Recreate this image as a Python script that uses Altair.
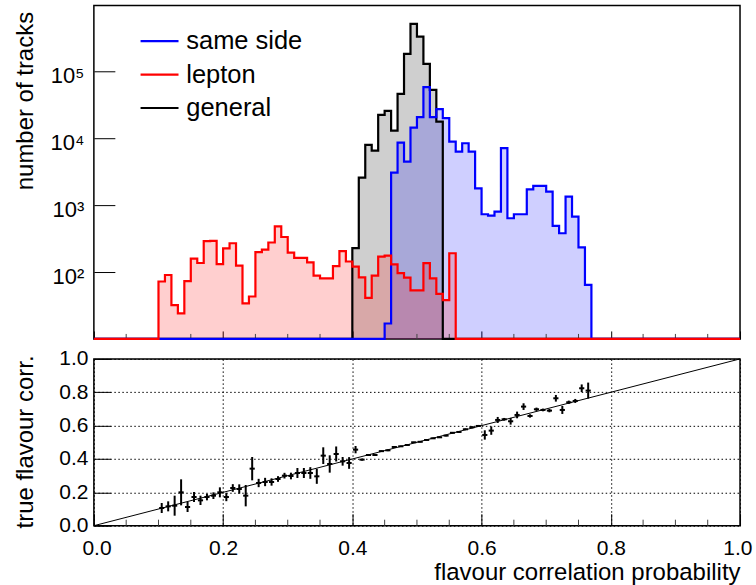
import altair as alt
import pandas as pd

# ---------------------------------------------------------------- data
BIN = 0.01          # histogram bin width
N_BINS = 100
YMIN, YMAX = 10, 9.5e5

# track counts per bin, listed from the first filled bin onwards
same_side_start = 0.45
same_side_counts = [17, 3030, 8510, 4430, 14250, 20400, 57100, 20400, 26800, 19700,
                    8810, 6250, 8320, 6250, 1770, 726, 693, 795, 7020, 632,
                    726, 726, 1710, 1920, 1920, 1580, 486, 378, 1330, 670,
                    233, 64]

lepton_start = 0.10
lepton_counts = [72, 90, 32, 24, 73, 158, 136, 288, 290, 131,
                 225, 268, 124, 34, 43, 197, 215, 275, 480, 332,
                 194, 162, 162, 139, 88, 80, 80, 122, 205, 143,
                 120, 83, 41, 88, 169, 175, 130, 96, 82, 53,
                 53, 135, 80, 47, 38, 190]

general_start = 0.40
general_counts = [226, 2550, 7870, 6460, 22000, 25300, 12850, 45400, 179000, 502000,
                  325000, 127000, 52000, 17500]

series_names = ["same side", "lepton", "general"]
series_colors = ["#0000ff", "#ff0000", "#000000"]

# profile: bin centre, mean true flavour correlation, its error
prof_x = [0.105, 0.115, 0.125, 0.135, 0.145, 0.155, 0.165, 0.175, 0.185, 0.195,
          0.205, 0.215, 0.225, 0.235, 0.245, 0.255, 0.265, 0.275, 0.285, 0.295,
          0.305, 0.315, 0.325, 0.335, 0.345, 0.355, 0.365, 0.375, 0.385, 0.395,
          0.405, 0.415, 0.425, 0.435, 0.445, 0.455, 0.465, 0.475, 0.485, 0.495,
          0.505, 0.515, 0.525, 0.535, 0.545, 0.555, 0.565, 0.575, 0.585, 0.595,
          0.605, 0.615, 0.625, 0.635, 0.645, 0.655, 0.665, 0.675, 0.685, 0.695,
          0.705, 0.715, 0.725, 0.735, 0.745, 0.755, 0.765]
prof_y = [0.106, 0.116, 0.120, 0.200, 0.112, 0.172, 0.152, 0.172, 0.180, 0.200,
          0.172, 0.226, 0.220, 0.180, 0.342, 0.256, 0.262, 0.262, 0.280, 0.300,
          0.298, 0.316, 0.316, 0.316, 0.296, 0.420, 0.370, 0.430, 0.386, 0.376,
          0.456, 0.396, 0.424, 0.424, 0.447, 0.452, 0.472, 0.476, 0.484, 0.500,
          0.503, 0.514, 0.524, 0.530, 0.540, 0.557, 0.562, 0.578, 0.590, 0.598,
          0.544, 0.570, 0.634, 0.638, 0.626, 0.664, 0.714, 0.658, 0.698, 0.694,
          0.690, 0.764, 0.694, 0.740, 0.748, 0.824, 0.810]
prof_err = [0.030, 0.030, 0.060, 0.078, 0.030, 0.030, 0.028, 0.020, 0.020, 0.030,
            0.025, 0.023, 0.028, 0.064, 0.070, 0.025, 0.025, 0.022, 0.017, 0.017,
            0.020, 0.030, 0.030, 0.035, 0.045, 0.050, 0.052, 0.045, 0.026, 0.035,
            0.022, 0.006, 0.005, 0.005, 0.005, 0.005, 0.004, 0.004, 0.004, 0.003,
            0.003, 0.003, 0.003, 0.004, 0.004, 0.004, 0.005, 0.005, 0.006, 0.006,
            0.028, 0.025, 0.018, 0.008, 0.020, 0.020, 0.020, 0.010, 0.010, 0.008,
            0.010, 0.020, 0.024, 0.010, 0.012, 0.023, 0.048]

# reference diagonal: perfect calibration
diag_x = [0.0, 1.0]
diag_y = [0.0, 1.0]

# ---------------------------------------------------------------- layout
W = 647
H_TOP = 334
H_BOT = 167
FONT = "Liberation Sans"


def hist_frame(name, start, counts):
    full = [0] * N_BINS
    i0 = int(round(start / BIN))
    for k, c in enumerate(counts):
        full[i0 + k] = c
    edges = [i * BIN for i in range(N_BINS)] + [1.0]
    vals = full + [full[-1]]
    return pd.DataFrame({
        "x": edges,
        "count": vals,
        "y": [max(v, YMIN) for v in vals],   # empty bins sit on the lower edge
        "base": YMIN,
        "series": name,
    })


hists = {
    "same side": hist_frame("same side", same_side_start, same_side_counts),
    "lepton": hist_frame("lepton", lepton_start, lepton_counts),
    "general": hist_frame("general", general_start, general_counts),
}
colour = dict(zip(series_names, series_colors))

x_scale = alt.Scale(domain=[0, 1], nice=False, zero=False)
y_log = alt.Scale(type="log", domain=[YMIN, YMAX], nice=False)
lin_scale = alt.Scale(domain=[0, 1], nice=False, zero=False)
stroke_scale = alt.Scale(domain=series_names, range=series_colors)

# tick positions (ticks point into the frame)
major_x = [0, 0.2, 0.4, 0.6, 0.8, 1.0]
minor_x = [round(i * 0.05, 2) for i in range(21) if i % 4 != 0]
major_log = [100, 1000, 10000, 100000]
minor_log = [m * 10 ** e for e in range(1, 6) for m in range(2, 10) if m * 10 ** e < YMAX]


def inward(px):
    # negative tick length: the tick is drawn inside the plotting frame
    return alt.ExprRef(expr=f"-{px}")


def log_up(px):
    # value on the log axis lying px pixels above its lower end
    return YMIN * (YMAX / YMIN) ** (px / H_TOP)


def ticks_along_x(values, xsc, xaxis, ysc, yaxis, y_from, y_to, color="#444444"):
    """Minor ticks standing on the bottom edge of a panel."""
    return (
        alt.Chart(pd.DataFrame({"v": values}))
        .transform_calculate(a=f"{y_from}", b=f"{y_to}")
        .mark_rule(color=color, strokeWidth=1)
        .encode(
            x=alt.X("v:Q", scale=xsc, axis=xaxis),
            y=alt.Y("a:Q", scale=ysc, axis=yaxis),
            y2="b:Q",
        )
    )


# ---------------------------------------------------------------- top panel
y_lab_log = alt.Axis(
    orient="left", values=major_log,
    labelExpr="'10' + ['⁰','¹','²','³','⁴','⁵','⁶'][round(log(datum.value)/LN10)]",
    ticks=True, tickSize=inward(21), tickColor="black", tickWidth=1,
    domain=False, grid=False,
    labelFontSize=22, labelPadding=31, labelOffset=5, labelColor="black",
    title="number of tracks", titleX=-61, titleY=6, titleAngle=270,
    titleAlign="right", titleBaseline="alphabetic", titleFontSize=24,
    titleFontWeight="normal", titleColor="black",
)
x_top = alt.Axis(
    orient="bottom", values=major_x, labels=False, domain=False, grid=False,
    ticks=True, tickSize=inward(8), tickColor="black", tickWidth=1, title="",
)

legend = alt.Legend(
    title=None, orient="none", legendX=43.5, legendY=23,
    symbolType="M-1,0H3", symbolSize=361, symbolStrokeWidth=2.2,
    labelFontSize=25.5, labelOffset=23.5, rowPadding=6.5, padding=0,
    labelColor="black",
)

areas, lines = [], []
for name in ["general", "same side", "lepton"]:
    base = alt.Chart(hists[name])
    areas.append(
        base.mark_area(interpolate="step-after", color=colour[name], fillOpacity=0.19)
        .encode(
            x=alt.X("x:Q", scale=x_scale, axis=x_top),
            y=alt.Y("y:Q", scale=y_log, axis=y_lab_log),
            y2="base:Q",
        )
    )
    lines.append(
        base.mark_line(interpolate="step-after", strokeWidth=2.2)
        .encode(
            x=alt.X("x:Q", scale=x_scale, axis=x_top),
            y=alt.Y("y:Q", scale=y_log, axis=y_lab_log),
            stroke=alt.Stroke("series:N", scale=stroke_scale, legend=legend),
        )
    )

top = (
    alt.layer(
        *areas,
        ticks_along_x(minor_x, x_scale, x_top, y_log, y_lab_log, YMIN, log_up(5)),
        *lines,
    )
    .properties(width=W, height=H_TOP)
)

# ---------------------------------------------------------------- bottom panel
prof = pd.DataFrame({"x": prof_x, "y": prof_y, "err": prof_err})
prof["lo"] = prof["y"] - prof["err"]
prof["hi"] = prof["y"] + prof["err"]
prof["xl"] = prof["x"] - 0.4 * BIN
prof["xh"] = prof["x"] + 0.4 * BIN
diag = pd.DataFrame({"x": diag_x, "y": diag_y})

grid_style = dict(grid=True, gridColor="black", gridDash=[1.5, 2.5], gridWidth=1)

x_lab = alt.Axis(
    orient="bottom", values=major_x, format=".1f",
    ticks=True, tickSize=inward(12), tickColor="black", tickWidth=1,
    domain=False, labelFontSize=21, labelPadding=24, labelFlush=True,
    labelFlushOffset=12, labelColor="black",
    title="flavour correlation probability", titleX=W, titleY=54,
    titleAlign="right", titleBaseline="alphabetic", titleFontSize=24,
    titleFontWeight="normal", titleColor="black", **grid_style,
)
y_lab = alt.Axis(
    orient="left", values=major_x, format=".1f",
    ticks=True, tickSize=inward(16.7), tickColor="black", tickWidth=1,
    domain=False, labelFontSize=21, labelPadding=22.7, labelColor="black",
    title="true flavour corr.", titleX=-61, titleY=-4, titleAngle=270,
    titleAlign="right", titleBaseline="alphabetic", titleFontSize=24,
    titleFontWeight="normal", titleColor="black", **grid_style,
)

diag_line = alt.Chart(diag).mark_line(color="black", strokeWidth=1).encode(
    x=alt.X("x:Q", scale=lin_scale, axis=x_lab),
    y=alt.Y("y:Q", scale=lin_scale, axis=y_lab),
)

err_v = alt.Chart(prof).mark_rule(color="black", strokeWidth=2).encode(
    x=alt.X("x:Q", scale=lin_scale, axis=x_lab),
    y=alt.Y("lo:Q", scale=lin_scale, axis=y_lab),
    y2="hi:Q",
)

err_h = alt.Chart(prof).mark_rule(color="black", strokeWidth=2).encode(
    x=alt.X("xl:Q", scale=lin_scale, axis=x_lab),
    x2="xh:Q",
    y=alt.Y("y:Q", scale=lin_scale, axis=y_lab),
)

bottom = (
    alt.layer(
        diag_line,
        ticks_along_x(minor_x, lin_scale, x_lab, lin_scale, y_lab, 0, 6 / H_BOT),
        err_v,
        err_h,
    )
    .properties(width=W, height=H_BOT)
)

chart = (
    alt.vconcat(top, bottom, spacing=20, bounds="flush")
    .properties(padding={"left": 13, "top": 4, "right": 3, "bottom": 0})
    .configure(font=FONT)
    .configure_view(stroke="black", strokeWidth=1.5)
)

chart.save("out.html", embed_options={"renderer": "svg", "actions": False})
